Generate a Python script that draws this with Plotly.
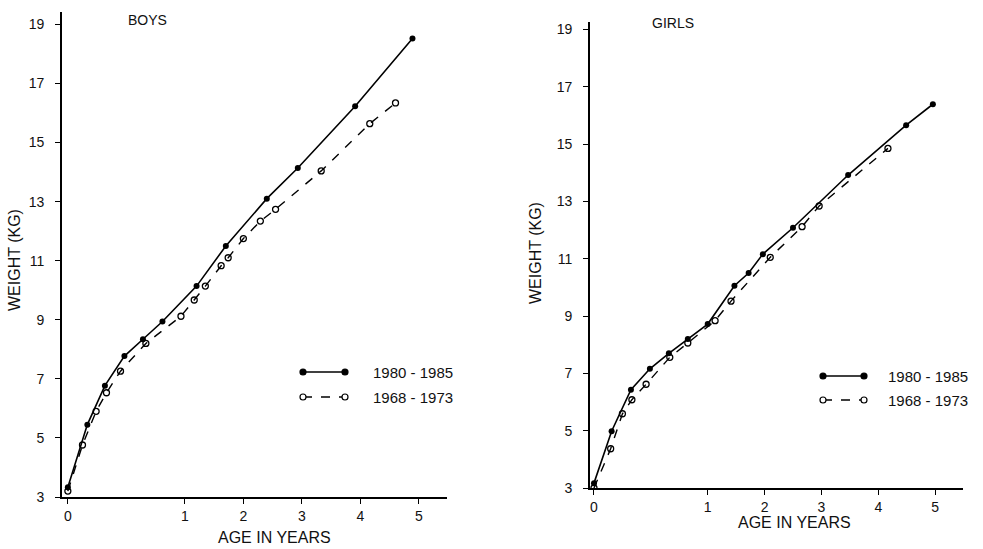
import plotly.graph_objects as go

# ---------------- data (ages in years, weights in kg) ----------------
boys_new_age = [0, 2/12, 3.8/12, 5.8/12, 7.7/12, 9.7/12, 1.2, 1.7, 2.4, 2.93, 3.91, 4.89]
boys_new_wt = [3.33, 5.45, 6.77, 7.77, 8.34, 8.94, 10.14, 11.5, 13.1, 14.14, 16.23, 18.52]

boys_old_age = [0, 1.5/12, 2.9/12, 3.96/12, 5.4/12, 8/12, 11.6/12, 1.16, 1.35, 1.62, 1.74,
                2.0, 2.29, 2.55, 3.33, 4.16, 4.6]
boys_old_wt = [3.2, 4.76, 5.9, 6.53, 7.26, 8.2, 9.12, 9.67, 10.14, 10.83, 11.1,
               11.75, 12.34, 12.74, 14.04, 15.64, 16.34]

girls_new_age = [0, 1.86/12, 3.9/12, 5.9/12, 7.9/12, 9.9/12, 1.0, 1.47, 1.72, 1.97, 2.5, 3.47, 4.49, 4.96]
girls_new_wt = [3.17, 4.98, 6.43, 7.16, 7.7, 8.2, 8.72, 10.06, 10.5, 11.16, 12.08, 13.92, 15.66, 16.39]

girls_old_age = [0, 1.76/12, 3/12, 4/12, 5.5/12, 8/12, 9.9/12, 1.13, 1.41, 2.1, 2.66, 2.96, 4.17]
girls_old_wt = [3.0, 4.37, 5.59, 6.08, 6.62, 7.56, 8.06, 8.84, 9.52, 11.05, 12.12, 12.84, 14.85]

age_ticks = [0, 1, 2, 3, 4, 5]
age_tick_labels = ["0", "1", "2", "3", "4", "5"]
weight_ticks = [3, 5, 7, 9, 11, 13, 15, 17, 19]
series_names = ["1980 - 1985", "1968 - 1973"]
panel_titles = ["BOYS", "GIRLS"]


# the first year of life is drawn at twice the scale of later years
def axis_pos(age):
    return 2 * age if age <= 1 else age + 1


W, H = 983, 549
FONT = "Liberation Sans"
INK = "#111111"


def px_x(p):
    return p / W


def px_y(p):
    return 1 - p / H


fig = go.Figure()

panels = [
    ("x", "y", boys_new_age, boys_new_wt, boys_old_age, boys_old_wt),
    ("x2", "y2", girls_new_age, girls_new_wt, girls_old_age, girls_old_wt),
]
for xa, ya, na, nw, oa, ow in panels:
    fig.add_trace(go.Scatter(
        x=[axis_pos(a) for a in na], y=nw, xaxis=xa, yaxis=ya, mode="lines+markers",
        line=dict(color="black", width=1.6),
        marker=dict(symbol="circle", size=6, color="black"),
        showlegend=False, name=series_names[0]))
    fig.add_trace(go.Scatter(
        x=[axis_pos(a) for a in oa], y=ow, xaxis=xa, yaxis=ya, mode="lines+markers",
        line=dict(color="black", width=1.4, dash="dash"),
        marker=dict(symbol="circle-open", size=6, color="black", line=dict(width=1.3)),
        showlegend=False, name=series_names[1]))

tickvals_x = [axis_pos(a) for a in age_ticks]

common_x = dict(showline=True, linecolor="black", linewidth=1.6, showgrid=False, zeroline=False,
                ticks="outside", ticklen=5, tickwidth=1.2, tickcolor="black",
                tickvals=tickvals_x, ticktext=age_tick_labels,
                tickfont=dict(family=FONT, size=14, color=INK))
common_y = dict(showline=True, linecolor="black", linewidth=1.8, showgrid=False, zeroline=False,
                ticks="outside", ticklen=5, tickwidth=1.2, tickcolor="black",
                tickvals=weight_ticks, tickfont=dict(family=FONT, size=14, color=INK),
                ticklabelstandoff=8)

fig.update_layout(
    width=W, height=H, template="none",
    margin=dict(l=0, r=0, t=0, b=0),
    paper_bgcolor="white", plot_bgcolor="rgba(0,0,0,0)",
    xaxis=dict(common_x, domain=[px_x(62), px_x(447)], range=[-0.1, 6.48], anchor="y"),
    yaxis=dict(common_y, domain=[px_y(497), px_y(12)], range=[3, 19.42], anchor="x"),
    xaxis2=dict(common_x, domain=[px_x(590), px_x(963)], range=[-0.07, 6.49], anchor="y2"),
    yaxis2=dict(common_y, domain=[px_y(488), px_y(22)], range=[3, 19.26], anchor="x2"),
)

ann = []
# panel titles
ann.append(dict(text=panel_titles[0], x=px_x(147), y=px_y(20)))
ann.append(dict(text=panel_titles[1], x=px_x(673), y=px_y(23)))
# axis titles
ann.append(dict(text="AGE IN YEARS", x=px_x(274), y=px_y(537), size=16))
ann.append(dict(text="AGE IN YEARS", x=px_x(794), y=px_y(522), size=16))
ann.append(dict(text="WEIGHT (KG)", x=px_x(15), y=px_y(260), size=16, angle=-90))
ann.append(dict(text="WEIGHT (KG)", x=px_x(535), y=px_y(253), size=16, angle=-90))

annotations = []
for a in ann:
    annotations.append(dict(
        text=a["text"], x=a["x"], y=a["y"], xref="paper", yref="paper",
        xanchor="center", yanchor="middle", showarrow=False, textangle=a.get("angle", 0),
        font=dict(family=FONT, size=a.get("size", 14), color=INK)))

# hand-drawn legends (line with a marker at each end, then label)
shapes = []
legends = [
    (303, 345, 372, 397, 371),   # boys: x0, x1, y solid, y dashed, text x
    (823, 864, 376, 400, 886),   # girls
]
for x0, x1, ys, yd, tx in legends:
    for yy, dash, filled, label in [(ys, "solid", True, series_names[0]),
                                    (yd, "dash", False, series_names[1])]:
        shapes.append(dict(type="line", xref="paper", yref="paper",
                           x0=px_x(x0), x1=px_x(x1), y0=px_y(yy), y1=px_y(yy),
                           line=dict(color="black", width=1.5 if filled else 1.3, dash=dash)))
        for xe in (x0, x1):
            shapes.append(dict(type="circle", xref="paper", yref="paper",
                               xsizemode="pixel", ysizemode="pixel",
                               xanchor=px_x(xe), yanchor=px_y(yy),
                               x0=-3, x1=3, y0=-3, y1=3,
                               fillcolor="black" if filled else "white",
                               line=dict(color="black", width=1.2)))
        annotations.append(dict(text=label, x=px_x(tx), y=px_y(yy), xref="paper", yref="paper",
                                xanchor="left", yanchor="middle", showarrow=False,
                                font=dict(family=FONT, size=15, color=INK)))

fig.update_layout(annotations=annotations, shapes=shapes)
fig.write_html("out.html")
